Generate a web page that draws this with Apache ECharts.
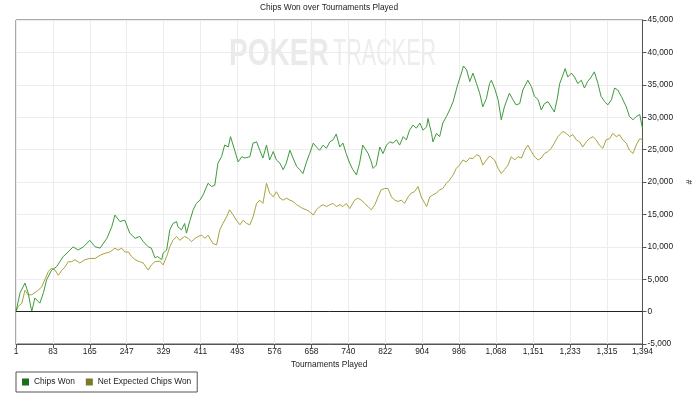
<!DOCTYPE html>
<html>
<head>
<meta charset="utf-8">
<title>Chips Won over Tournaments Played</title>
<script src="https://cdn.jsdelivr.net/npm/echarts@6/dist/echarts.min.js"></script>
<style>
    html, body { margin: 0; padding: 0; background: #fff; }
    #main { width: 700px; height: 399px; }
</style>
</head>
<body>
<div id="main"></div>
<script>
// tick labels on the bottom axis
var xTicks = [1, 83, 165, 247, 329, 411, 493, 576, 658, 740, 822, 904, 986, 1068, 1151, 1233, 1315, 1394];

// Chips Won
var chipsTourn = [1, 10, 21, 28, 36, 43, 54, 62, 69, 80, 91, 106, 117, 128, 139, 151, 165, 177, 188, 203, 214, 221, 232, 243, 254, 266, 276, 284, 295, 302, 310, 316, 325,
    328, 336, 343, 350, 358, 361, 369, 376, 380, 388, 395, 402, 410, 417, 428, 436, 443, 450, 458, 465, 473, 478, 485, 495, 503, 510, 521, 528, 536, 543, 550, 558, 565, 573, 580, 588, 595,
    602, 610, 617, 625, 632, 639, 647, 654, 662, 669, 676, 684, 691, 699, 706, 713, 721, 728, 735, 743, 750, 758, 765, 772, 776, 784, 791, 795, 802, 810, 817, 825, 832, 839, 847, 854,
    862, 869, 876, 884, 891, 899, 906, 914, 917, 925, 928, 936, 943, 950, 958, 965, 973, 976, 983, 990, 996, 1003, 1010, 1017, 1021, 1025, 1032, 1039, 1047, 1054, 1058, 1065, 1073,
    1080, 1087, 1098, 1106, 1113, 1121, 1128, 1139, 1147, 1154, 1162, 1169, 1176, 1184, 1191, 1198, 1204, 1210, 1217, 1222, 1228, 1236, 1243, 1250, 1258, 1265, 1272, 1280, 1287,
    1295, 1302, 1310, 1317, 1325, 1332, 1339, 1347, 1350, 1358, 1365, 1373, 1380, 1388, 1391, 1394];
var chipsWon = [0, 2900, 4400, 2900, 0, 2100, 1300, 2900, 4900, 6400, 6900, 8500, 9200, 10000, 9500, 10000, 11000, 10000, 9800, 11300, 13100, 14900, 13900, 14100, 12100, 11300, 11600, 10800, 10000, 9800, 8300, 8500, 8000,
    9000, 9500, 12600, 13600, 13900, 13100, 12600, 13600, 12100, 14100, 15700, 16700, 17200, 18000, 19800, 19300, 19500, 22900, 23900, 25700, 25400, 27000, 25400, 23100, 23900, 23700, 23900, 26000, 26200, 24900, 23700, 25700, 23400, 24700, 23400, 22900, 21900,
    22900, 24900, 23700, 22400, 21900, 21300, 23100, 24400, 26000, 25400, 24900, 25700, 25200, 26200, 26500, 27400, 25400, 26000, 24400, 22900, 21900, 21100, 22900, 25700, 26000, 24400, 23100, 22100, 22600, 25400, 24400, 25700, 26200, 26000, 26500, 25700,
    27000, 26500, 28000, 28800, 28300, 29100, 28000, 28500, 29800, 27500, 26200, 27500, 27000, 29100, 30100, 31100, 32400, 32600, 35000, 36500, 37900, 37300, 35500, 36800, 37000, 35200, 33700, 31600, 32900, 35200, 35700, 34500, 32700,
    29600, 31600, 33700, 32700, 31900, 32100, 34200, 35700, 34700, 33200, 32700, 31100, 32100, 32400, 31600, 30800, 32700, 35200, 36500, 37500, 36200, 36800, 36200, 35200, 35700, 34500, 35500, 36200, 37000,
    35200, 33200, 32400, 31900, 32700, 34500, 34200, 33200, 33500, 31600, 30100, 29600, 30100, 30400, 29300, 28300];

// Net Expected Chips Won
var netTourn = [1, 6, 14, 21, 28, 36, 47, 58, 65, 73, 80, 88, 95, 103, 110, 117, 125, 132, 143, 154, 165, 177, 188, 199, 210, 221, 228, 236, 243, 251, 258, 266, 276, 284, 295, 302, 310, 321,
    328, 336, 343, 350, 358, 365, 376, 384, 391, 399, 406, 414, 421, 428, 432, 439, 447, 454, 461, 469, 476, 484, 491, 499, 506, 514, 521, 528, 536, 543, 550, 558, 565, 573, 580, 588, 595,
    602, 610, 617, 625, 632, 639, 647, 654, 662, 669, 676, 684, 691, 699, 706, 713, 721, 728, 735, 743, 754, 761, 769, 776, 784, 791, 799, 806, 813, 821, 828, 836, 843, 851, 858, 865,
    873, 880, 887, 895, 902, 910, 914, 921, 928, 936, 943, 950, 958, 965, 973, 980, 987, 995, 1002, 1010, 1017, 1025, 1032, 1039, 1047, 1054, 1065, 1073, 1080, 1087, 1095, 1102, 1110,
    1117, 1125, 1132, 1139, 1147, 1154, 1162, 1169, 1176, 1184, 1191, 1198, 1206, 1217, 1225, 1232, 1239, 1247, 1254, 1261, 1269, 1276, 1284, 1291, 1298, 1306, 1313, 1321, 1328, 1336,
    1343, 1350, 1358, 1365, 1373, 1380, 1388, 1394];
var netExpected = [0, 800, 1300, 3300, 2600, 2600, 3100, 3800, 4900, 6200, 6700, 6400, 5600, 6400, 6900, 7700, 7700, 8000, 7500, 8000, 8200, 8200, 8700, 9000, 9200, 9800, 9500, 9800, 9200, 9200, 8500, 8000, 7700, 7500, 6400, 7200, 7700, 7800,
    7200, 8500, 10000, 11000, 11600, 11000, 11600, 11300, 10800, 11300, 11600, 11800, 11300, 11800, 11600, 10500, 10300, 12600, 13600, 14600, 15700, 14900, 14100, 13400, 14100, 13600, 13400, 14600, 16700, 17200, 16700, 19800, 18300, 17700, 18500, 17500, 17200,
    17500, 17200, 17000, 16500, 16200, 15900, 15700, 15400, 14900, 15700, 16200, 16500, 16200, 16500, 16700, 16200, 16500, 16200, 16700, 15900, 17200, 17500, 17200, 16700, 16200, 15700, 16500, 17700, 18800, 19000, 19000, 17700, 17200, 17000, 17200, 16700,
    17700, 18300, 18500, 19300, 17700, 16700, 16200, 17700, 18000, 18300, 18800, 19000, 19800, 20300, 21100, 22100, 22600, 23400, 23100, 23700, 23600, 24200, 24000, 22600, 23400, 24000, 23400, 22100, 21300, 21900, 22600, 23900, 23400,
    23900, 23700, 24900, 25700, 24700, 23900, 23400, 23700, 24400, 24700, 25200, 26000, 27000, 27800, 27500, 27000, 27300, 26500, 26200, 25400, 26200, 26700, 27000, 26500, 25700, 25200, 26500, 26700, 27500, 27000,
    27300, 26500, 26000, 24900, 24400, 25700, 26700, 26500];

function pairs(xs, ys) {
    var out = [];
    for (var i = 0; i < xs.length; i++) {
        out.push([xs[i], ys[i]]);
    }
    return out;
}

function commas(v) {
    return Math.round(v).toLocaleString('en-US');
}

var myChart = echarts.init(document.getElementById('main'), null, { renderer: 'canvas' });
var fontName = 'Liberation Sans, Arial, sans-serif';
var txt = { fontFamily: fontName, fontSize: 8.4, color: '#222' };

var option = {
    animation: false,
    backgroundColor: '#fff',
    title: {
        text: 'Chips Won over Tournaments Played',
        left: 329,
        textAlign: 'center',
        top: 4,
        padding: 0,
        textStyle: { fontFamily: fontName, fontSize: 8.4, fontWeight: 'normal', color: '#222' }
    },
    graphic: [
        {
            type: 'text', left: 229, top: 37, scaleX: 0.78,
            style: { text: 'POKER', font: 'bold 36px Liberation Sans', fill: '#eaeaea' }
        },
        {
            type: 'text', left: 333, top: 37, scaleX: 0.6,
            style: { text: 'TRACKER', font: '36px Liberation Sans', fill: '#ededed' }
        }
    ],
    legend: {
        left: 16,
        top: 372,
        padding: [6, 6, 6, 6],
        itemGap: 11,
        itemWidth: 7,
        itemHeight: 7,
        icon: 'rect',
        borderColor: '#555',
        borderWidth: 1,
        borderRadius: 0,
        textStyle: txt,
        data: [
            { name: 'Chips Won', itemStyle: { color: '#1c6e1c' } },
            { name: 'Net Expected Chips Won', itemStyle: { color: '#7a7a28' } }
        ]
    },
    grid: {
        left: 16,
        right: 57,
        top: 20,
        bottom: 55,
        show: true,
        borderColor: '#555',
        borderWidth: 1
    },
    xAxis: {
        type: 'value',
        min: 1,
        max: 1394,
        name: 'Tournaments Played',
        nameLocation: 'middle',
        nameGap: 17,
        nameTextStyle: txt,
        axisLine: { onZero: false, lineStyle: { color: '#555' } },
        axisTick: { customValues: xTicks, length: 4, lineStyle: { color: '#555' } },
        axisLabel: { customValues: xTicks, margin: 4, formatter: commas, fontFamily: fontName, fontSize: 8.4, color: '#222' },
        splitLine: { show: true, lineStyle: { color: '#ececec' } }
    },
    yAxis: {
        type: 'value',
        position: 'right',
        min: -5000,
        max: 45000,
        interval: 5000,
        name: '#',
        nameLocation: 'middle',
        nameRotate: -90,
        nameGap: 33,
        nameTextStyle: txt,
        axisLine: { show: true, lineStyle: { color: '#555' } },
        axisTick: { show: true, length: 4, lineStyle: { color: '#555' } },
        axisLabel: { margin: 5, formatter: commas, fontFamily: fontName, fontSize: 8.4, color: '#222' },
        splitLine: { show: true, lineStyle: { color: '#ececec' } }
    },
    series: [
        {
            name: 'Chips Won',
            type: 'line',
            data: pairs(chipsTourn, chipsWon),
            showSymbol: false,
            color: '#3d9a3d',
            lineStyle: { width: 1, color: '#3d9a3d' },
            z: 3,
            markLine: {
                silent: true,
                symbol: ['none', 'none'],
                label: { show: false },
                lineStyle: { color: '#222', type: 'solid', width: 1 },
                data: [{ yAxis: 0 }]
            }
        },
        {
            name: 'Net Expected Chips Won',
            type: 'line',
            data: pairs(netTourn, netExpected),
            showSymbol: false,
            color: '#aaa23c',
            lineStyle: { width: 1, color: '#aaa23c' },
            z: 2
        }
    ]
};

myChart.setOption(option);
</script>
</body>
</html>
